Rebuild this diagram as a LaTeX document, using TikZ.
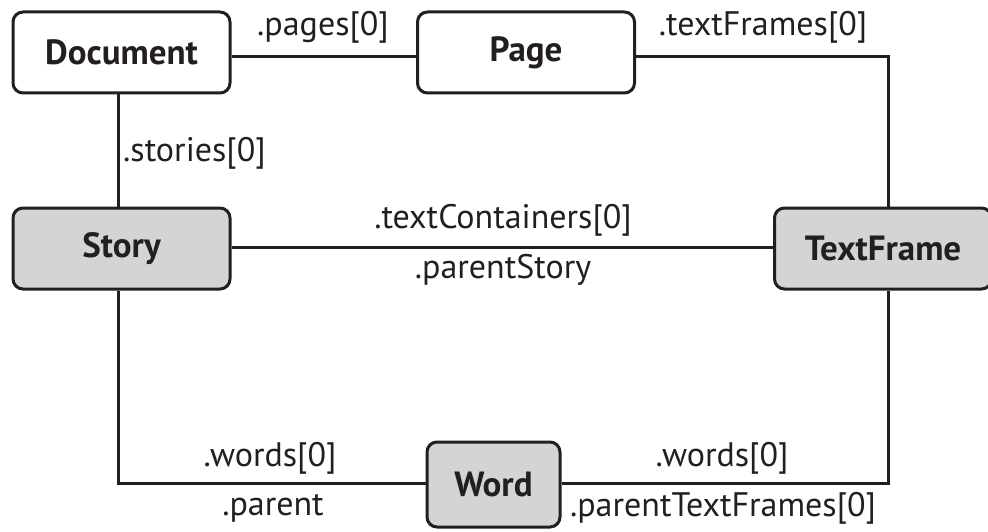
\documentclass[tikz,border=0pt]{standalone}
\usepackage{fontspec}
\setmainfont{PT Sans}
\definecolor{boxgray}{HTML}{D3D4D6}
\definecolor{ink}{HTML}{231F20}
\begin{document}
\begin{tikzpicture}[x=1pt,y=-1pt,
  objbox/.style={draw=ink, line width=3pt, rounded corners=10pt, minimum width=217pt, minimum height=81pt, inner sep=0pt, font=\fontsize{35}{40}\selectfont\bfseries, text=ink},
  litebox/.style={objbox, fill=white},
  darkbox/.style={objbox, fill=boxgray},
  conn/.style={draw=ink, line width=3pt},
  lbl/.style={font=\fontsize{34}{38}\selectfont, text=ink, inner sep=0pt}]
\useasboundingbox (0,0) rectangle (988,532);
\node[litebox] (doc) at (121.5,52.5) {Document};
\node[litebox] (page) at (526,52.5) {Page};
\node[darkbox] (story) at (121.5,248.5) {Story};
\node[darkbox] (tf) at (883,248.5) {TextFrame};
\node[darkbox, minimum width=133pt, minimum height=85pt] (word) at (493.5,484.5) {Word};
\coordinate (c1) at (888,57);
\coordinate (c2) at (118,483);
\coordinate (c3) at (888,483);
\draw[conn] (doc.east |- 0,57) -- (page.west |- 0,57);
\draw[conn] (page.east |- 0,57) -- (c1) -- (tf.north -| c1);
\draw[conn] (doc.south -| 118,0) -- (story.north -| 118,0);
\draw[conn] (story.east |- 0,247) -- (tf.west |- 0,247);
\draw[conn] (story.south -| c2) -- (c2) -- (word.west |- c2);
\draw[conn] (word.east |- c3) -- (c3) -- (tf.south -| c3);
\node[lbl] (l1) at (323,27) {.pages[0]};
\node[lbl] (l2) at (763,27) {.textFrames[0]};
\node[lbl, anchor=west] (l3) at (123,153) {.stories[0]};
\node[lbl] (l4) at (503,220) {.textContainers[0]};
\node[lbl] (l5) at (503,270) {.parentStory};
\node[lbl] (l6) at (270,458) {.words[0]};
\node[lbl] (l7) at (273,508) {.parent};
\node[lbl] (l8) at (722,458) {.words[0]};
\node[lbl] (l9) at (723,508) {.parentTextFrames[0]};
\end{tikzpicture}
\end{document}
